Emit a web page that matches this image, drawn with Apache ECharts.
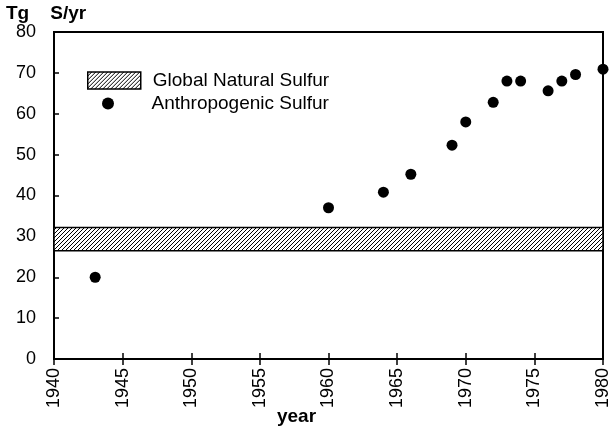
<!DOCTYPE html>
<html><head><meta charset="utf-8">
<script src="https://cdn.jsdelivr.net/npm/echarts@6/dist/echarts.min.js"></script>
<style>html,body{margin:0;padding:0;background:#fff}#c{width:609px;height:431px}</style>
</head><body><div id="c"></div>
<script>
// ---- data ----
const years = [1943, 1960, 1964, 1966, 1969, 1970, 1972, 1973, 1974, 1976, 1977, 1978, 1980];
const anthropogenic = [20, 37, 40.8, 45.2, 52.3, 58, 62.8, 68, 68, 65.6, 68, 69.6, 70.9];
const naturalBand = { from: 1940, to: 1980, low: 26.5, high: 32.2 };
const xTicks = [1940, 1945, 1950, 1955, 1960, 1965, 1970, 1975, 1980];
const yTicks = [0, 10, 20, 30, 40, 50, 60, 70, 80];
const seriesNames = ['Global Natural Sulfur', 'Anthropogenic Sulfur'];

// hatch pattern
const pc = document.createElement('canvas');
pc.width = 4; pc.height = 4;
const g = pc.getContext('2d');
g.fillStyle = '#fff'; g.fillRect(0, 0, 4, 4);
g.strokeStyle = '#000'; g.lineWidth = 1;
g.beginPath();
g.moveTo(-1, 5); g.lineTo(5, -1);
g.moveTo(-1, 1); g.lineTo(1, -1);
g.moveTo(3, 5); g.lineTo(5, 3);
g.stroke();
const hatch = { image: pc, repeat: 'repeat' };

const font = 'Liberation Sans, Arial, sans-serif';
const chart = echarts.init(document.getElementById('c'));
const pts = years.map((y, i) => [y, anthropogenic[i]]);

chart.setOption({
  animation: false,
  backgroundColor: '#fff',
  title: { text: 'Tg    S/yr', left: 6, top: 4, padding: 0, textStyle: { fontFamily: font, fontSize: 19, fontWeight: 'bold', color: '#000' } },
  grid: { left: 54, right: 6, top: 32, bottom: 72, show: true, borderColor: '#000', borderWidth: 2, backgroundColor: 'transparent', outerBoundsMode: 'none', containLabel: false },
  legend: [
    { data: [{ name: seriesNames[0], icon: 'rect', itemStyle: { color: hatch, borderColor: '#000', borderWidth: 1.5 } }],
      orient: 'vertical', left: 82, top: 66, itemWidth: 53, itemHeight: 17, selectedMode: false,
      textStyle: { fontFamily: font, fontSize: 19, color: '#000', padding: [0, 0, 0, 7] } },
    { data: [{ name: seriesNames[1], icon: 'circle', itemStyle: { color: '#000', opacity: 1 } }],
      orient: 'vertical', left: 97, top: 89, itemWidth: 53, itemHeight: 12, selectedMode: false,
      textStyle: { fontFamily: font, fontSize: 19, color: '#000', padding: [0, 0, 0, 12] } }
  ],
  xAxis: [{
    type: 'value', min: xTicks[0], max: xTicks[xTicks.length - 1], interval: 5,
    name: 'year', nameLocation: 'middle', nameGap: 48, nameMoveOverlap: false,
    nameTextStyle: { fontFamily: font, fontSize: 19, fontWeight: 'bold', color: '#000', padding: [0, 64, 0, 0] },
    axisLine: { lineStyle: { color: '#000', width: 2 } },
    axisTick: { inside: false, length: 6, lineStyle: { color: '#000', width: 1.5 } },
    axisLabel: { rotate: 90, fontFamily: font, fontSize: 18, color: '#000', margin: 9, formatter: v => String(v) },
    splitLine: { show: false }
  }, {
    type: 'value', min: xTicks[0], max: xTicks[xTicks.length - 1], interval: 5, position: 'bottom',
    axisLine: { show: false },
    axisTick: { inside: true, length: 6, lineStyle: { color: '#000', width: 1.5 } },
    axisLabel: { show: false }, splitLine: { show: false }
  }],
  yAxis: {
    type: 'value', min: yTicks[0], max: yTicks[yTicks.length - 1], interval: 10,
    axisLine: { show: true, lineStyle: { color: '#000', width: 2 } },
    axisTick: { show: true, inside: true, length: 5, lineStyle: { color: '#000', width: 1.5 } },
    axisLabel: { fontFamily: font, fontSize: 18, color: '#000', margin: 18 },
    splitLine: { show: false }
  },
  series: [{
    name: seriesNames[0], type: 'custom', xAxisIndex: 0,
    itemStyle: { color: hatch, borderColor: '#000', borderWidth: 1.5 },
    encode: { x: [0, 1], y: [2, 3] },
    data: [[naturalBand.from, naturalBand.to, naturalBand.low, naturalBand.high]],
    renderItem: function (params, api) {
      const p1 = api.coord([api.value(0), api.value(3)]);
      const p2 = api.coord([api.value(1), api.value(2)]);
      return { type: 'rect', shape: { x: p1[0], y: p1[1], width: p2[0] - p1[0], height: p2[1] - p1[1] },
        style: { fill: hatch, stroke: '#000', lineWidth: 1.5 } };
    }
  }, {
    name: seriesNames[1], type: 'scatter', xAxisIndex: 0, symbol: 'circle', symbolSize: 11,
    itemStyle: { color: '#000', opacity: 1 }, data: pts, z: 5
  }]
});
</script></body></html>
